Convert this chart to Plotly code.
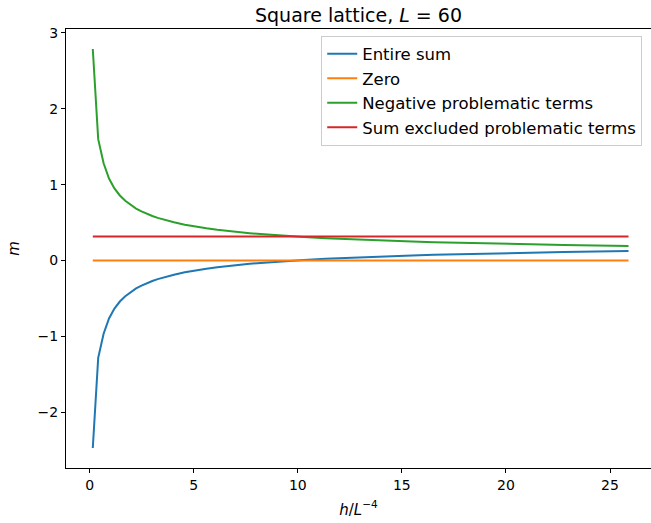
import plotly.graph_objects as go

# data
h = [0.15, 0.41, 0.67, 0.93, 1.19, 1.45, 1.71, 1.97, 2.23, 2.49, 2.75, 3.01, 3.27, 3.53,
     4.05, 4.57, 5.09, 5.61, 6.13, 6.65, 7.17, 7.69, 8.21, 8.73, 9.25, 9.77, 10.29,
     11.33, 12.37, 13.41, 14.45, 15.49, 16.53, 17.57, 18.61, 19.65, 20.69, 21.73,
     22.77, 23.81, 24.85, 25.89]
entire_sum = [-2.473, -1.284, -0.965, -0.764, -0.634, -0.541, -0.471, -0.415, -0.369,
              -0.331, -0.299, -0.270, -0.246, -0.224, -0.187, -0.156, -0.130, -0.108,
              -0.089, -0.072, -0.057, -0.044, -0.032, -0.021, -0.011, -0.002, 0.007,
              0.022, 0.035, 0.046, 0.057, 0.066, 0.074, 0.082, 0.089, 0.095, 0.101,
              0.106, 0.111, 0.116, 0.120, 0.125]
negative_terms = [2.789, 1.600, 1.281, 1.080, 0.950, 0.857, 0.787, 0.731, 0.685, 0.647,
                  0.615, 0.586, 0.562, 0.540, 0.503, 0.472, 0.446, 0.424, 0.405, 0.388,
                  0.373, 0.360, 0.348, 0.337, 0.327, 0.318, 0.309, 0.294, 0.281, 0.270,
                  0.259, 0.250, 0.242, 0.234, 0.227, 0.221, 0.215, 0.210, 0.205, 0.200,
                  0.196, 0.191]
const_h = [0.15, 25.89]
zero_line = [0.0, 0.0]
excluded_sum = [0.316, 0.316]

names = ["Entire sum", "Zero", "Negative problematic terms", "Sum excluded problematic terms"]
colors = ["#1f77b4", "#ff7f0e", "#2ca02c", "#d62728"]

FONT = "DejaVu Sans, Liberation Sans, sans-serif"

fig = go.Figure()
series = [(h, entire_sum), (const_h, zero_line), (h, negative_terms), (const_h, excluded_sum)]
for i, ((xs, ys), name, col) in enumerate(zip(series, names, colors)):
    fig.add_trace(go.Scatter(x=xs, y=ys, mode="lines", name=name,
                             line=dict(color=col, width=2), legendgroup=f"g{i}"))

axis_common = dict(showline=True, linecolor="black", linewidth=1, ticks="outside",
                   ticklen=4, tickwidth=1, tickcolor="black", showgrid=False,
                   zeroline=False, tickfont=dict(family=FONT, size=14, color="black"))

fig.update_layout(
    width=651, height=523,
    margin=dict(l=66, r=0, t=29, b=55),
    plot_bgcolor="white", paper_bgcolor="white",
    font=dict(family=FONT, size=14, color="black"),
    title=dict(text="Square lattice, <i>L</i> = 60", x=0.5, xref="paper",
               y=1 - 15 / 523, yref="container", yanchor="middle", xanchor="center",
               font=dict(family=FONT, size=19, color="black")),
    xaxis=dict(range=[-1.137, 26.97], dtick=5, tick0=0, mirror=True,
               title=dict(text="<i>h</i>/<i>L</i><sup>−4</sup>", standoff=12,
                          font=dict(family=FONT, size=15)),
               **axis_common),
    yaxis=dict(range=[-2.736, 3.052], dtick=1, tick0=0, mirror=False,
               title=dict(text="<i>m</i>", standoff=14, font=dict(family=FONT, size=15)),
               **axis_common),
    legend=dict(x=0.985, y=0.985, xanchor="right", yanchor="top",
                bordercolor="#cccccc", borderwidth=1, bgcolor="rgba(255,255,255,0.8)",
                font=dict(family=FONT, size=16.5, color="black"), tracegroupgap=2,
                traceorder="normal"),
)

fig.write_html("out.html")
